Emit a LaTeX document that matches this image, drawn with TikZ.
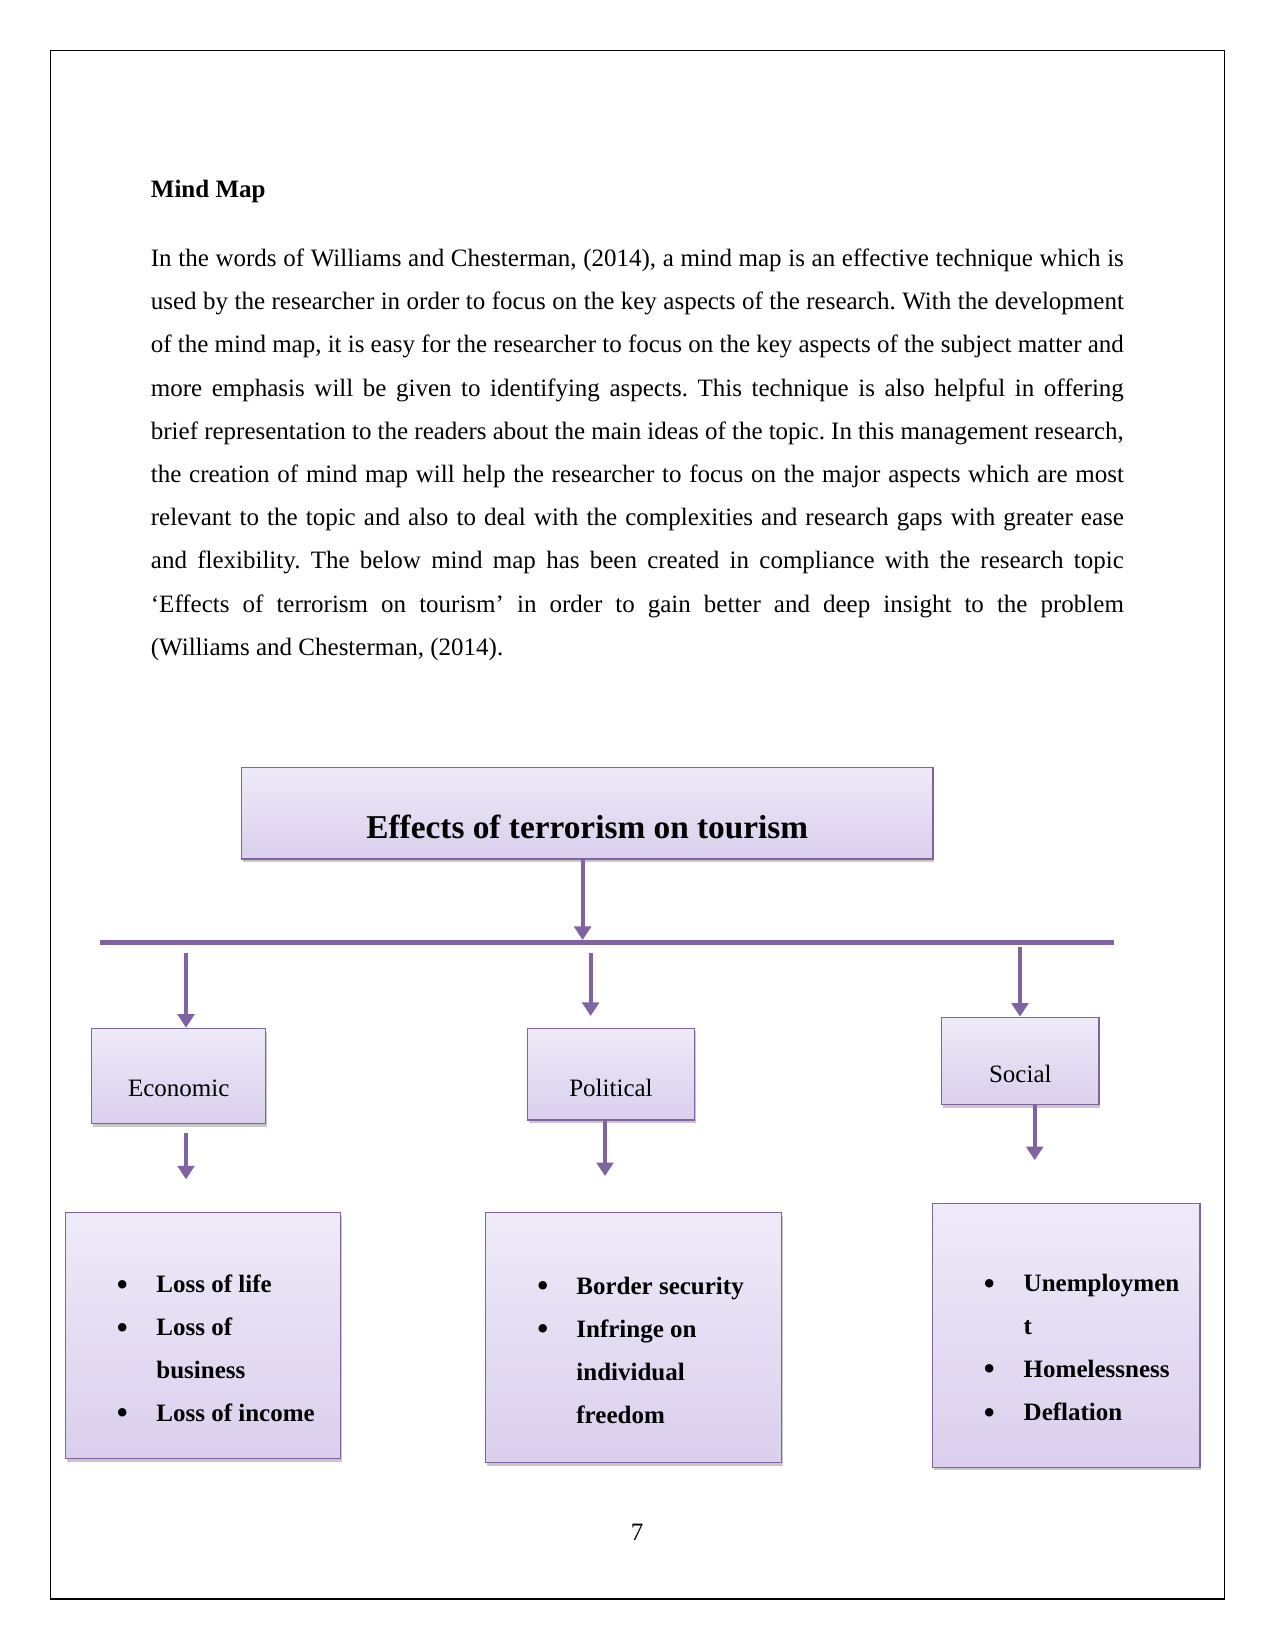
\documentclass[tikz,border=0pt]{standalone}
\usepackage{fontspec}
\setmainfont{Liberation Serif}
\usetikzlibrary{arrows.meta,shadows}

\definecolor{mmline}{RGB}{128,100,162}
\definecolor{mmtop}{RGB}{239,234,248}
\definecolor{mmbot}{RGB}{218,207,237}

\begin{document}
\begin{tikzpicture}[x=0.48pt, y=-0.48pt,
  box/.style={draw=mmline, line width=0.6pt, top color=mmtop, bottom color=mmbot,
    inner sep=0pt, drop shadow={shadow xshift=0.6pt, shadow yshift=-1.5pt, opacity=0.3, fill=black!70}},
  catfont/.style={font=\fontsize{12}{14}\selectfont},
  listtext/.style={anchor=base west, inner sep=0pt, font=\bfseries\fontsize{12}{14}\selectfont},
  bulletmark/.style={anchor=base, inner sep=0pt, font=\fontsize{17}{17}\selectfont},
  flow/.style={draw=mmline, line width=1.9pt, -{Triangle[width=8pt,length=6.5pt]}},
  bar/.style={draw=mmline, line width=2.3pt}]

  % page and frame
  \path[use as bounding box, fill=white] (0,0) rectangle (1275,1651);
  \draw[line width=0.6pt] (50.3,50.3) rectangle (1224.3,1599);

  % heading and text
  \node[anchor=base west, inner sep=0pt, font=\bfseries\fontsize{12}{14}\selectfont] (heading) at (150.5,197.3) {Mind Map};
  \node[anchor=north west, inner sep=0pt, text width=467pt, align=justify,
    font=\fontsize{12}{20.74}\selectfont\frenchspacing] (intro) at (150.5,235.8) {\strut In the words of Williams and Chesterman, (2014), a mind map is an effective technique which is\linebreak
    used by the researcher in order to focus on the key aspects of the research. With the development\linebreak
    of the mind map, it is easy for the researcher to focus on the key aspects of the subject matter and\linebreak
    more emphasis will be given to identifying aspects. This technique is also helpful in offering\linebreak
    brief representation to the readers about the main ideas of the topic. In this management research,\linebreak
    the creation of mind map will help the researcher to focus on the major aspects which are most\linebreak
    relevant to the topic and also to deal with the complexities and research gaps with greater ease\linebreak
    and flexibility. The below mind map has been created in compliance with the research topic\linebreak
    ‘Effects of terrorism on tourism’ in order to gain better and deep insight to the problem\linebreak
    (Williams and Chesterman, (2014).};

  % main topic
  \node[box, anchor=base, font=\bfseries\fontsize{16}{19}\selectfont, minimum width=331.9pt,
    text height=34pt, text depth=9.9pt] (title) at (587.3,838.3) {Effects of terrorism on tourism};

  % categories
  \node[box, catfont, anchor=base, minimum width=83.5pt, text height=32.8pt, text depth=12.8pt] (eco) at (178.7,1096.7) {Economic};
  \node[box, catfont, anchor=base, minimum width=80pt, text height=32.5pt, text depth=11.5pt] (pol) at (611,1096) {Political};
  \node[box, catfont, anchor=base, minimum width=75.6pt, text height=31.4pt, text depth=10.6pt] (soc) at (1020.3,1082.7) {Social};

  % effect lists
  \node[box, minimum width=132pt, minimum height=118.1pt] (ecoList) at (203.2,1335.7) {};
  \node[box, minimum width=142pt, minimum height=120pt] (polList) at (633.6,1337.7) {};
  \node[box, minimum width=128.5pt, minimum height=126.7pt] (socList) at (1066.2,1335.3) {};

  \foreach \n/\y/\txt in {1/1292.7/Loss of life, 2/1335.7/Loss of, 3/1378.5/business, 4/1421.3/Loss of income}
    \node[listtext] (ecoItem\n) at (156,\y) {\txt};
  \foreach \n/\y in {1/1292.7, 2/1335.7, 4/1421.3}
    \node[bulletmark] (ecoDot\n) at (122.3,\y) {\raisebox{-1.6pt}{\textbullet}};

  \foreach \n/\y/\txt in {1/1294/Border security, 2/1337/Infringe on, 3/1380/individual, 4/1423/freedom}
    \node[listtext] (polItem\n) at (576,\y) {\txt};
  \foreach \n/\y in {1/1294, 2/1337}
    \node[bulletmark] (polDot\n) at (542.7,\y) {\raisebox{-1.6pt}{\textbullet}};

  \foreach \n/\y/\txt in {1/1291.7/Unemploymen, 2/1334.5/t, 3/1377.3/Homelessness, 4/1420.7/Deflation}
    \node[listtext] (socItem\n) at (1023.3,\y) {\txt};
  \foreach \n/\y in {1/1291.7, 3/1377.3, 4/1420.7}
    \node[bulletmark] (socDot\n) at (989.2,\y) {\raisebox{-1.6pt}{\textbullet}};

  % bar and arrows
  \coordinate (barL) at (100,942.3);
  \coordinate (barR) at (1114,942.3);
  \coordinate (hub) at (582.6,940);
  \draw[bar] (barL) -- (barR);
  \draw[flow] (title.south -| hub) -- (hub);

  \coordinate (ecoFork) at (186,952.7);
  \coordinate (polFork) at (590.6,952.8);
  \coordinate (socFork) at (1020,946.7);
  \draw[flow] (ecoFork) -- (eco.north -| ecoFork);
  \draw[flow, shorten >=5.6pt] (polFork) -- (pol.north -| polFork);
  \draw[flow] (socFork) -- (soc.north -| socFork);

  \coordinate (polDrop) at (605,1150);
  \coordinate (socDrop) at (1034.7,1150);
  \draw[flow, shorten <=4.5pt, shorten >=15.7pt] (eco.south -| ecoFork) -- (ecoList.north -| ecoFork);
  \draw[flow, shorten >=17.3pt] (pol.south -| polDrop) -- (polList.north -| polDrop);
  \draw[flow, shorten >=20.4pt] (soc.south -| socDrop) -- (socList.north -| socDrop);

  % page number
  \node[anchor=base, inner sep=0pt, font=\fontsize{12}{14}\selectfont] (pageno) at (637,1540) {7};

\end{tikzpicture}
\end{document}
